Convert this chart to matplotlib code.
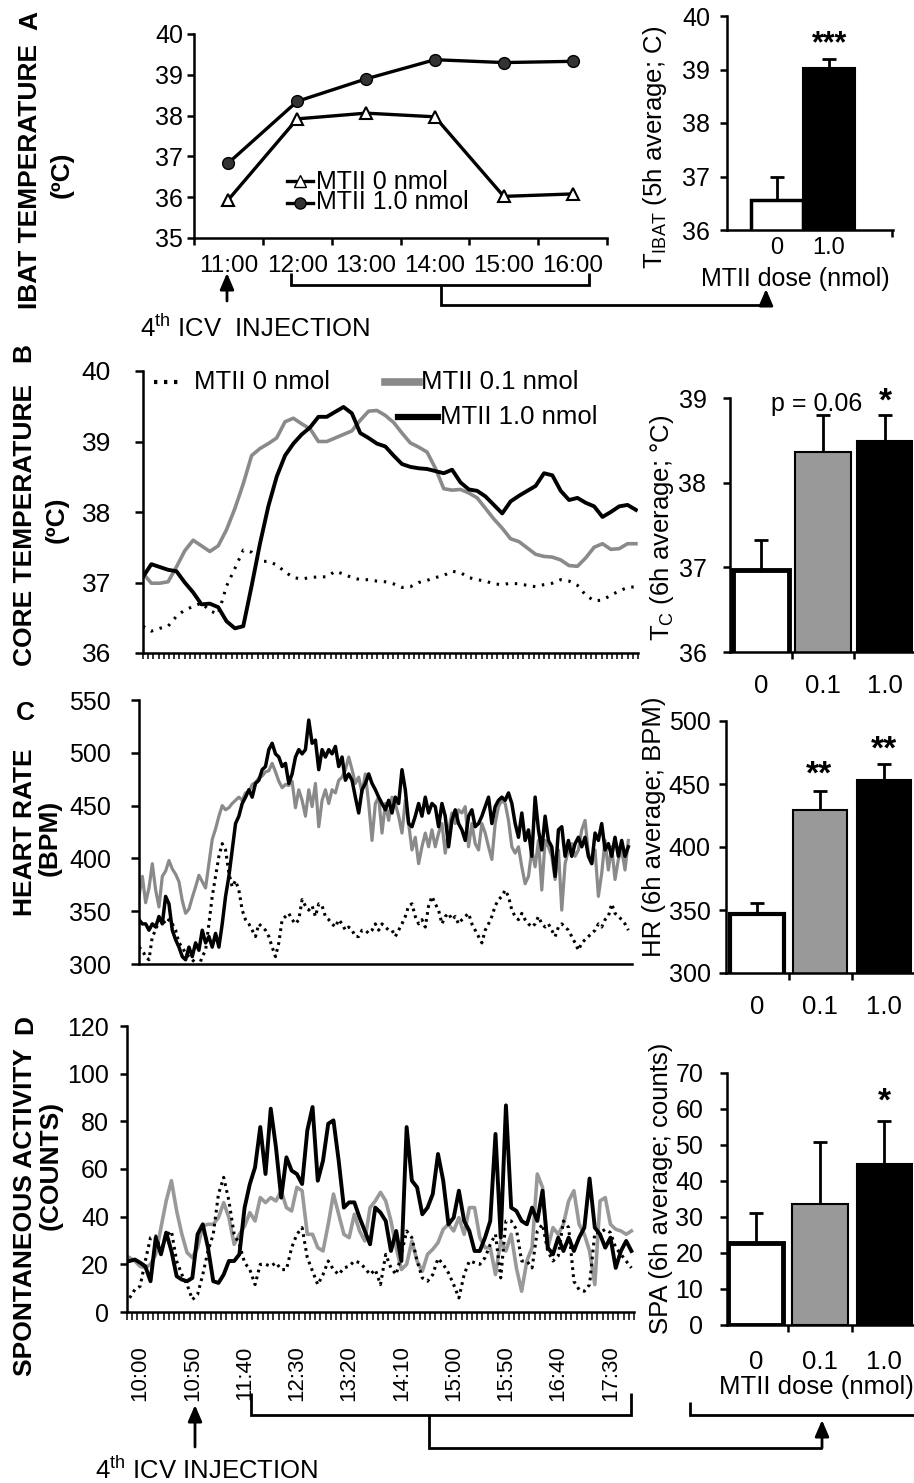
"""Four-panel MTII dose figure: IBAT, core temperature, heart rate and activity."""

import numpy as np
import matplotlib
matplotlib.use("Agg")
import matplotlib.pyplot as plt
from matplotlib.lines import Line2D
from matplotlib.patches import FancyArrowPatch

plt.rcParams.update({
    "font.family": ["Liberation Sans", "DejaVu Sans"],
    "font.size": 18,
    "mathtext.default": "regular",
    "axes.linewidth": 1.8,
})

# ---- panel A: IBAT temperature, hourly
a_times = ["11:00", "12:00", "13:00", "14:00", "15:00", "16:00"]
a_mtii0 = [35.94, 37.92, 38.06, 37.97, 36.02, 36.08]
a_mtii1 = [36.84, 38.35, 38.90, 39.37, 39.30, 39.33]
a_bar = [36.57, 39.02]
a_err = [0.43, 0.18]
a_doses = ["0", "1.0"]

# ---- panel B: core temperature (deg C)
b_zero = [36.38, 36.31, 36.35, 36.38, 36.52, 36.61, 36.66, 36.71, 36.60, 36.55,
          36.95, 37.20, 37.46, 37.43, 37.30, 37.30, 37.25, 37.15, 37.07, 37.05,
          37.07, 37.08, 37.08, 37.16, 37.12, 37.07, 37.04, 37.04, 37.02, 37.01,
          36.98, 36.93, 36.94, 37.00, 37.03, 37.07, 37.10, 37.16, 37.14, 37.07,
          37.04, 37.02, 36.98, 36.97, 36.99, 36.98, 36.96, 36.94, 36.97, 36.99,
          37.04, 37.02, 36.96, 36.82, 36.74, 36.75, 36.82, 36.88, 36.93, 36.94]
b_low = [37.13, 36.99, 36.99, 37.01, 37.22, 37.45, 37.60, 37.52, 37.44, 37.52,
         37.75, 38.05, 38.40, 38.80, 38.90, 38.97, 39.05, 39.28, 39.33, 39.25,
         39.18, 39.00, 39.00, 39.05, 39.10, 39.15, 39.30, 39.43, 39.44, 39.37,
         39.27, 39.12, 38.98, 38.92, 38.85, 38.62, 38.33, 38.31, 38.32, 38.27,
         38.20, 38.05, 37.90, 37.77, 37.62, 37.58, 37.49, 37.40, 37.37, 37.36,
         37.32, 37.24, 37.23, 37.35, 37.50, 37.55, 37.47, 37.48, 37.55, 37.55]
b_high = [37.08, 37.26, 37.22, 37.18, 37.16, 37.00, 36.86, 36.69, 36.70, 36.65,
          36.45, 36.35, 36.38, 36.95, 37.55, 38.08, 38.50, 38.80, 38.97, 39.10,
          39.20, 39.35, 39.35, 39.42, 39.49, 39.40, 39.12, 39.05, 38.97, 38.93,
          38.80, 38.68, 38.64, 38.62, 38.61, 38.58, 38.55, 38.60, 38.42, 38.32,
          38.30, 38.22, 38.10, 37.98, 38.15, 38.23, 38.30, 38.37, 38.55, 38.52,
          38.30, 38.17, 38.20, 38.13, 38.08, 37.93, 38.00, 38.08, 38.10, 38.03]
b_bar = [36.97, 38.36, 38.49]
b_err = [0.35, 0.44, 0.31]

# ---- panel C: heart rate (BPM)
c_zero = [316, 313, 307, 304, 326, 332, 342, 342, 338, 342,
          338, 332, 320, 316, 310, 307, 304, 301, 298, 307,
          313, 338, 364, 383, 402, 414, 408, 386, 373, 379,
          370, 351, 342, 338, 332, 326, 338, 335, 332, 326,
          316, 307, 320, 342, 345, 348, 342, 338, 342, 361,
          355, 351, 355, 345, 357, 355, 345, 342, 338, 335,
          342, 338, 332, 335, 332, 326, 326, 332, 332, 329,
          332, 338, 332, 338, 335, 332,
          332, 326, 332, 338, 345, 355, 357, 345, 338, 342,
          335, 355, 364, 357, 351, 338, 345, 348, 342, 345,
          338, 342, 345, 348, 338, 332, 326, 320, 332, 338,
          345, 355, 361, 364, 370, 364, 351, 345, 342, 348,
          342, 338, 335, 338, 345, 338, 335, 338, 332, 326,
          335, 338, 335, 332, 326, 320, 313, 320, 323, 326,
          329, 332, 338, 335, 342, 345, 357, 348, 345, 342,
          338, 332]
c_low = [364, 383, 358, 372, 395, 370, 354, 383, 388, 398,
         390, 385, 378, 360, 348, 352, 363, 373, 384, 378,
         372, 395, 418, 428, 440, 450, 446, 448, 452, 455,
         458, 455, 462, 463, 470, 472, 476, 478, 482, 483,
         490, 482, 473, 467, 470, 469, 473, 448, 465, 455,
         440, 465, 449, 471, 430, 455, 465, 452, 465, 462,
         474, 477, 484, 496, 484, 471, 477, 462, 480, 452,
         417, 452, 458, 424, 452, 436,
         458, 452, 440, 424, 455, 433, 408, 420, 395, 411,
         424, 411, 427, 411, 424, 433, 405, 427, 443, 433,
         446, 443, 449, 411, 433, 414, 408, 433, 424, 411,
         399, 433, 449, 455, 452, 436, 411, 405, 411, 392,
         376, 383, 408, 392, 417, 370, 417, 411, 402, 380,
         408, 351, 395, 408, 414, 402, 408, 427, 436, 405,
         395, 408, 364, 386, 417, 389, 411, 380, 399, 408,
         389, 417]
c_high = [342, 338, 338, 332, 338, 335, 345, 338, 364, 357,
          332, 323, 316, 307, 304, 316, 307, 320, 313, 332,
          320, 326, 316, 329, 316, 338, 364, 383, 408, 433,
          440, 452, 458, 465, 458, 471, 474, 484, 487, 503,
          509, 499, 496, 487, 490, 471, 480, 496, 503, 499,
          503, 531, 509, 512, 484, 503, 496, 503, 499, 506,
          487, 496, 474, 480, 474, 458, 443, 465, 471, 480,
          471, 465, 458, 452, 446, 455,
          443, 458, 452, 484, 465, 433, 430, 440, 452, 440,
          458, 443, 452, 449, 430, 452, 440, 411, 436, 446,
          433, 427, 417, 440, 446, 430, 433, 440, 449, 458,
          433, 449, 455, 458, 455, 462, 452, 433, 420, 443,
          417, 427, 402, 458, 427, 408, 440, 417, 411, 383,
          427, 430, 402, 417, 402, 414, 420, 411, 420, 402,
          395, 424, 417, 433, 408, 414, 402, 420, 402, 417,
          402, 411]
c_bar = [347, 429.5, 453]
c_err = [8.5, 15, 13]

# ---- panel D: spontaneous activity (counts per 5 min, from 9:50)
d_zero = [5.9, 9.4, 10.8, 21.4, 31.2, 31.9, 25.6, 31.9, 34.0, 21.4,
          15.7, 11.5, 5.2, 7.3, 15.7, 25.6, 32.6, 49.5, 56.5, 46.6,
          32.6, 28.4, 20.7, 17.8, 11.5, 20.0, 20.0, 19.2, 20.7, 17.8,
          17.8, 27.0, 32.6, 35.4, 22.8, 17.1, 11.5, 15.7, 21.4, 17.8,
          15.7, 18.5, 19.2, 21.4, 20.7, 18.5, 15.7, 17.8, 11.5,
          24.2, 18.5, 15.7, 24.2, 34.0, 31.2, 21.4, 14.3, 12.9, 15.7,
          22.5, 20.0, 16.4, 11.5, 5.9, 15.7, 21.4, 20.7, 20.0, 22.8,
          28.4, 32.6, 14.3, 38.2, 38.2, 34.7, 21.4, 21.4, 18.5, 34.0,
          36.8, 25.6, 21.4, 23.5, 38.2, 35.4, 12.9, 9.4, 8.7, 11.5,
          33.3, 33.3, 34.7, 33.3, 27.0, 24.2, 21.4, 18.5]
d_low = [22.8, 21.4, 19.2, 18.5, 20.0, 24.2, 35.4, 46.6, 55.1, 42.4,
         32.6, 24.9, 22.8, 27.0, 36.1, 36.8, 36.8, 39.6, 45.9, 39.6,
         28.4, 32.6, 36.1, 41.7, 38.2, 48.0, 45.9, 48.0, 46.6, 50.9,
         43.8, 42.4, 52.3, 50.9, 32.6, 32.6, 27.0, 25.6, 36.8, 49.5,
         41.0, 32.6, 31.2, 41.0, 34.0, 29.8, 43.8, 46.6, 50.2,
         46.6, 38.2, 27.0, 17.8, 20.0, 29.8, 21.4, 17.1, 24.2, 26.3,
         29.1, 34.7, 36.8, 34.0, 39.6, 32.6, 43.8, 43.8, 31.2, 27.0,
         27.0, 15.7, 29.8, 25.6, 32.6, 18.5, 8.7, 21.4, 27.0, 57.9,
         52.3, 27.0, 35.4, 32.6, 36.8, 46.6, 50.9, 36.8, 32.6, 25.6,
         11.5, 46.6, 48.0, 36.8, 34.7, 34.0, 32.6, 34.0]
d_high = [21.4, 22.0, 20.7, 19.2, 12.9, 31.2, 24.2, 33.3, 25.6, 15.0,
          13.6, 12.9, 14.3, 32.6, 36.8, 27.0, 12.9, 12.2, 15.7, 21.4,
          21.4, 24.2, 43.8, 53.7, 60.7, 77.6, 57.9, 85.3, 69.1, 48.0,
          64.9, 59.3, 57.9, 53.7, 76.2, 86.0, 55.1, 63.5, 79.0, 80.4,
          63.5, 43.8, 46.0, 46.0, 39.6, 34.0, 28.4, 43.8, 41.7,
          38.2, 25.6, 34.0, 21.4, 77.6, 55.1, 52.3, 41.0, 43.8, 49.5,
          66.3, 55.1, 36.8, 39.6, 50.9, 38.2, 34.0, 25.6, 25.6, 31.2,
          38.2, 74.7, 31.2, 86.7, 43.8, 42.4, 38.2, 36.8, 43.8, 38.2,
          50.9, 27.0, 24.2, 31.2, 25.6, 31.2, 25.6, 31.2, 35.4, 56.0,
          35.4, 32.6, 27.0, 31.2, 18.5, 25.6, 29.8, 25.6]
d_labels = ["10:00", "10:50", "11:40", "12:30", "13:20",
            "14:10", "15:00", "15:50", "16:40", "17:30"]
d_bar = [22.9, 33.7, 44.7]
d_err = [8.3, 17.0, 12.1]

doses3 = ["0", "0.1", "1.0"]
bar_colors = ["white", "#999999", "black"]
GRAY = "#8a8a8a"

W, H = 914, 1483
fig = plt.figure(figsize=(W / 100, H / 100), dpi=100)


def box(left, top, right, bottom):
    """Axes placed by pixel edges (origin top-left)."""
    ax = fig.add_axes([left / W, 1 - bottom / H, (right - left) / W, (bottom - top) / H])
    for side in ("top", "right"):
        ax.spines[side].set_visible(False)
    ax.tick_params(direction="out", length=5, width=1.8)
    return ax


def fpt(x, y):
    return x / W, 1 - y / H


def ftext(x, y, s, **kw):
    kw.setdefault("ha", "center")
    kw.setdefault("va", "center")
    fig.text(x / W, 1 - y / H, s, **kw)


def seg(pts, lw=2.0):
    xs, ys = zip(*[fpt(x, y) for x, y in pts])
    fig.add_artist(Line2D(xs, ys, transform=fig.transFigure, color="k", lw=lw,
                          solid_capstyle="butt", solid_joinstyle="miter"))


def up_arrow(x, y_tail, y_tip):
    fig.add_artist(FancyArrowPatch(fpt(x, y_tail), fpt(x, y_tip), transform=fig.transFigure,
                                   arrowstyle="-|>,head_length=0.7,head_width=0.3",
                                   mutation_scale=14, lw=2, color="k",
                                   shrinkA=0, shrinkB=0))


def bars(ax, vals, errs, colors, width, white_lw):
    x = np.arange(len(vals))
    lws = [white_lw if c == "white" else 1.5 for c in colors]
    ax.bar(x, vals, width=width, color=colors, edgecolor="k", linewidth=lws, zorder=2)
    ax.errorbar(x, vals, yerr=[np.zeros(len(errs)), errs], fmt="none", ecolor="k",
                elinewidth=2, capsize=5, capthick=2, zorder=1)
    return x


def handle(x0, x1, y, **kw):
    xs, ys = zip(fpt(x0, y), fpt(x1, y))
    fig.add_artist(Line2D(xs, ys, transform=fig.transFigure, **kw))


# ================= A =================
ax = box(194, 34, 607, 238)
xa = np.arange(len(a_times)) + 0.5
ax.plot(xa, a_mtii0, color="k", lw=2.4, marker="^", ms=8, mfc="white", mec="k", mew=1.5)
ax.plot(xa, a_mtii1, color="k", lw=2.4, marker="o", ms=8.5, mfc="#333333", mec="k")
ax.set_xlim(0, len(a_times))
ax.set_ylim(35, 40)
ax.set_yticks(range(35, 41))
ax.tick_params(axis="y", pad=3, labelsize=18)
ax.set_xticks(range(len(a_times) + 1))
ax.set_xticklabels([])
ax.set_xticks(xa, minor=True)
ax.set_xticklabels(a_times, minor=True, fontsize=17.5)
ax.tick_params(axis="x", which="minor", length=0, pad=12)

# legend: two rows packed tightly, one text block beside the handles
for yy, mk, fc in [(181, "^", "white"), (203, "o", "#333333")]:
    xs, ys = zip(fpt(287, yy), fpt(300, yy), fpt(313, yy))
    fig.add_artist(Line2D(xs, ys, transform=fig.transFigure, color="k", lw=2.4, marker=mk,
                          ms=8, mfc=fc, mec="k", markevery=[1]))
ftext(316, 192, "MTII 0 nmol\nMTII 1.0 nmol", ha="left", fontsize=18, linespacing=0.78)

ftext(30, 20, "A", rotation=90, weight="bold", fontsize=19)
ftext(30, 176, "IBAT TEMPERATURE", rotation=90, weight="bold", fontsize=19)
ftext(62, 175, "(ºC)", rotation=90, weight="bold", fontsize=19)

up_arrow(227, 301, 273)
ftext(140, 328, r"4$^{th}$ ICV  INJECTION", ha="left", fontsize=18.5)
seg([(291, 273), (291, 285), (589, 285), (589, 273)])
seg([(441, 285), (441, 305), (766, 305)])
up_arrow(766, 305, 289)

ax = box(727, 16, 893, 230)
xb = bars(ax, a_bar, a_err, ["white", "black"], 1.0, 2.5)
ax.set_xlim(-0.97, 2.24)
ax.set_ylim(36, 40)
ax.set_yticks(range(36, 41))
ax.tick_params(axis="y", pad=7, labelsize=18)
ax.set_xticks(xb, a_doses, fontsize=17)
ax.tick_params(axis="x", length=0, pad=5)
ax.set_xticks([2.22], minor=True)
ax.tick_params(axis="x", which="minor", length=5, width=1.8)
ftext(795, 279, "MTII dose (nmol)", fontsize=18)
ftext(830, 44, "***", weight="bold", fontsize=22)
ftext(655, 147, r"T$_{IBAT}$ (5h average; C)", rotation=90, fontsize=18.5)

# ================= B =================
ax = box(143, 371, 638, 653)
xb_ = np.arange(len(b_zero))
ax.plot(xb_, b_zero, color="k", lw=2.2, ls=(0, (0.8, 2.2)))
ax.plot(xb_, b_low, color=GRAY, lw=2.6)
ax.plot(xb_, b_high, color="k", lw=2.8)
ax.set_xlim(0, 59.25)
ax.set_ylim(36, 40)
ax.set_yticks(range(36, 41))
ax.tick_params(axis="y", pad=17, length=6, labelsize=19)
ax.set_xticks(np.linspace(0, 59.25, 96))
ax.set_xticklabels([])
ax.tick_params(axis="x", length=4, width=1.1)

handle(154, 181, 382, color="k", lw=3, ls=(0, (0.8, 1.6)))
ftext(194, 382, "MTII 0 nmol", ha="left", fontsize=18.5)
handle(385, 419, 382, color=GRAY, lw=5.5)
ftext(421, 382, "MTII 0.1 nmol", ha="left", fontsize=18.5)
handle(398, 438, 417, color="k", lw=4.5)
ftext(440, 417, "MTII 1.0 nmol", ha="left", fontsize=18.5)

ftext(23, 352, "B", rotation=90, weight="bold", fontsize=19)
ftext(25, 525, "CORE TEMPERATURE", rotation=90, weight="bold", fontsize=19)
ftext(57, 520, "(ºC)", rotation=90, weight="bold", fontsize=19)

ax = box(730, 398, 913, 652)
xb = bars(ax, b_bar, b_err, bar_colors, 0.9, 3.5)
ax.set_xlim(-0.5, 2.46)
ax.set_ylim(36, 39)
ax.set_yticks(range(36, 40))
ax.tick_params(axis="y", pad=12, labelsize=18)
ax.set_xticks(xb, doses3, fontsize=18.5)
ax.tick_params(axis="x", length=0, pad=16)
ax.set_xticks([0.5, 1.5], minor=True)
ax.tick_params(axis="x", which="minor", length=5, width=1.8)
ftext(817, 404, "p = 0.06", fontsize=18)
ftext(885, 402, "*", weight="bold", fontsize=24)
ftext(662, 528, r"T$_{C}$ (6h average; °C)", rotation=90, fontsize=18.5)

# ================= C =================
ax = box(139, 700, 632, 964)
xc = np.arange(len(c_zero))
ax.plot(xc, c_low, color=GRAY, lw=2.3)
ax.plot(xc, c_high, color="k", lw=2.5)
ax.plot(xc, c_zero, color="k", lw=2.2, ls=(0, (0.9, 1.4)))
ax.set_xlim(0, 148.1)
ax.set_ylim(300, 550)
ax.set_yticks(range(300, 551, 50))
ax.tick_params(axis="y", pad=14, length=6, labelsize=18)
ax.set_xticks([])

ftext(25, 713, "C", weight="bold", fontsize=19)
ftext(25, 832, "HEART RATE", rotation=90, weight="bold", fontsize=19)
ftext(50, 838, "(BPM)", rotation=90, weight="bold", fontsize=19)

ax = box(726, 721, 914, 973)
xb = bars(ax, c_bar, c_err, bar_colors, 0.85, 3.0)
ax.set_xlim(-0.49, 2.48)
ax.set_ylim(300, 500)
ax.set_yticks(range(300, 501, 50))
ax.tick_params(axis="y", pad=6, labelsize=18)
ax.set_xticks(xb, doses3, fontsize=18.5)
ax.tick_params(axis="x", length=0, pad=16)
ax.set_xticks([0.5, 1.5], minor=True)
ax.tick_params(axis="x", which="minor", length=5, width=1.8)
ftext(819, 775, "**", weight="bold", fontsize=24)
ftext(884, 750, "**", weight="bold", fontsize=24)
ftext(654, 827, "HR (6h average; BPM)", rotation=90, fontsize=18.5)

# ================= D =================
ax = box(127, 1026, 634, 1312)
xd = np.arange(len(d_zero))
ax.plot(xd, d_low, color="#999999", lw=2.6)
ax.plot(xd, d_high, color="k", lw=2.8)
ax.plot(xd, d_zero, color="k", lw=2.2, ls=(0, (0.9, 1.4)))
ax.set_xlim(-0.5, len(d_zero) - 0.5)
ax.set_ylim(0, 120)
ax.set_yticks(range(0, 121, 20))
ax.tick_params(axis="y", pad=8, length=5, labelsize=18)
ax.set_xticks(np.arange(2, len(d_zero), 10), d_labels, rotation=90, fontsize=16)
ax.tick_params(axis="x", length=0, pad=24)
ax.set_xticks(np.arange(-0.5, len(d_zero)), minor=True)
ax.tick_params(axis="x", which="minor", length=6, width=1.1)

ftext(25, 1025, "D", rotation=90, weight="bold", fontsize=19)
ftext(25, 1212, "SPONTANEOUS ACTIVITY", rotation=90, weight="bold", fontsize=19)
ftext(51, 1165, "(COUNTS)", rotation=90, weight="bold", fontsize=19)

up_arrow(195, 1447, 1405)
ftext(95, 1470, r"4$^{th}$ ICV INJECTION", ha="left", fontsize=18.5)
seg([(251, 1393), (251, 1415), (631, 1415), (631, 1393)])
seg([(429, 1415), (429, 1448), (822, 1448)])
up_arrow(822, 1448, 1420)
seg([(690, 1402), (690, 1415), (914, 1415)])

ax = box(727, 1073, 913, 1325)
xb = bars(ax, d_bar, d_err, bar_colors, 0.86, 3.5)
ax.set_xlim(-0.45, 2.45)
ax.set_ylim(0, 70)
ax.set_yticks(range(0, 71, 10))
ax.tick_params(axis="y", pad=12, labelsize=18)
ax.set_xticks(xb, doses3, fontsize=18.5)
ax.tick_params(axis="x", length=0, pad=18)
ax.set_xticks([0.5, 1.5], minor=True)
ax.tick_params(axis="x", which="minor", length=5, width=1.8)
ftext(884, 1102, "*", weight="bold", fontsize=24)
ftext(816, 1387, "MTII dose (nmol)", fontsize=18.5)
ftext(661, 1188, "SPA (6h average; counts)", rotation=90, fontsize=18.5)

fig.savefig("out.png", dpi=100)
